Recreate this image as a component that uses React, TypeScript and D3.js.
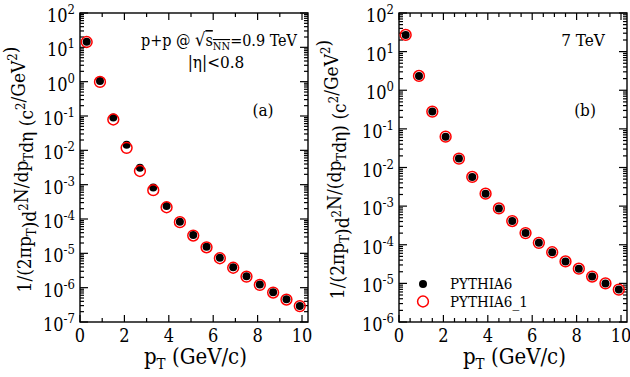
import React, { useEffect, useRef } from 'react'
import * as d3 from 'd3'

// pT bin centres (GeV/c), same for both panels
const ptBins = [0.3, 0.9, 1.5, 2.1, 2.7, 3.3, 3.9, 4.5, 5.1, 5.7, 6.3, 6.9, 7.5, 8.1, 8.7, 9.3, 9.9]

// panel (a): 0.9 TeV
const pythia6A = [14.5, 1.05, 0.09, 0.0145, 0.0031, 8.3e-4, 2.4e-4, 8.3e-5, 3.4e-5, 1.55e-5, 7.4e-6, 3.9e-6, 2.15e-6, 1.23e-6, 7.4e-7, 4.6e-7, 2.9e-7]
const pythia61A = [14.3, 0.98, 0.079, 0.0118, 0.0025, 6.9e-4, 2.2e-4, 8.1e-5, 3.3e-5, 1.5e-5, 7.2e-6, 3.8e-6, 2.1e-6, 1.2e-6, 7.2e-7, 4.5e-7, 2.9e-7]

// panel (b): 7 TeV
const pythia6B = [27, 2.35, 0.28, 0.063, 0.017, 0.0057, 0.0021, 8.7e-4, 4.1e-4, 2.0e-4, 1.12e-4, 6.4e-5, 3.7e-5, 2.4e-5, 1.5e-5, 1.0e-5, 6.9e-6]
const pythia61B = [27, 2.35, 0.28, 0.063, 0.017, 0.0057, 0.0021, 8.7e-4, 4.1e-4, 2.0e-4, 1.12e-4, 6.4e-5, 3.7e-5, 2.4e-5, 1.5e-5, 1.0e-5, 6.9e-6]

const xTicks = [0, 2, 4, 6, 8, 10]
const legendLabels = ['PYTHIA6', 'PYTHIA6_1']

const FONT = '"DejaVu Serif Condensed", "DejaVu Serif", serif'

type PanelCfg = {
  left: number
  yMin: number
  minorStep: number
  black: number[]
  red: number[]
  title: 'a' | 'b'
  titleX: number
}

export default function App() {
  const svgRef = useRef<SVGSVGElement>(null)

  useEffect(() => {
    const svg = d3.select(svgRef.current)
    svg.selectAll('*').remove()

    const top = 13
    const bottom = 322
    const w = 228

    const panels: PanelCfg[] = [
      { left: 80, yMin: 1e-7, minorStep: 1, black: pythia6A, red: pythia61A, title: 'a', titleX: 31 },
      { left: 399, yMin: 1e-6, minorStep: 0.5, black: pythia6B, red: pythia61B, title: 'b', titleX: 344 },
    ]

    panels.forEach(p => {
      const x = d3.scaleLinear().domain([0, 10.27]).range([p.left, p.left + w])
      const y = d3.scaleLog().domain([p.yMin, 100]).range([bottom, top])
      const g = svg.append('g')

      // frame
      g.append('rect')
        .attr('x', p.left).attr('y', top)
        .attr('width', w).attr('height', bottom - top)
        .attr('fill', 'none').attr('stroke', '#000').attr('stroke-width', 1.4)

      // x ticks (bottom + top)
      const minorX = d3.range(0, 10.27, p.minorStep).filter(v => Math.abs(v % 2) > 1e-6)
      const tickG = g.append('g').attr('stroke', '#000').attr('stroke-width', 1.2)
      xTicks.forEach(v => {
        tickG.append('line').attr('x1', x(v)).attr('x2', x(v)).attr('y1', bottom).attr('y2', bottom - 7)
        tickG.append('line').attr('x1', x(v)).attr('x2', x(v)).attr('y1', top).attr('y2', top + 7)
      })
      minorX.forEach(v => {
        tickG.append('line').attr('x1', x(v)).attr('x2', x(v)).attr('y1', bottom).attr('y2', bottom - 4)
        tickG.append('line').attr('x1', x(v)).attr('x2', x(v)).attr('y1', top).attr('y2', top + 4)
      })

      // y ticks (left + right)
      const e0 = Math.round(Math.log10(p.yMin))
      const decades = d3.range(e0, 3)
      decades.forEach(e => {
        const yy = y(Math.pow(10, e))
        tickG.append('line').attr('x1', p.left).attr('x2', p.left + 8).attr('y1', yy).attr('y2', yy)
        tickG.append('line').attr('x1', p.left + w).attr('x2', p.left + w - 8).attr('y1', yy).attr('y2', yy)
        if (e < 2) {
          d3.range(2, 10).forEach(m => {
            const ym = y(m * Math.pow(10, e))
            tickG.append('line').attr('x1', p.left).attr('x2', p.left + 4).attr('y1', ym).attr('y2', ym)
            tickG.append('line').attr('x1', p.left + w).attr('x2', p.left + w - 4).attr('y1', ym).attr('y2', ym)
          })
        }
        const t = g.append('text')
          .attr('x', p.left - 5).attr('y', yy + 9)
          .attr('text-anchor', 'end')
          .attr('font-family', FONT).attr('font-size', 18)
        t.append('tspan').text('10')
        t.append('tspan').attr('dy', -8).attr('font-size', 13).text(String(e))
      })

      // x tick labels
      xTicks.forEach(v => {
        g.append('text')
          .attr('x', x(v)).attr('y', 342)
          .attr('text-anchor', 'middle')
          .attr('font-family', FONT).attr('font-size', 18)
          .text(String(v))
      })

      // x title
      const xt = g.append('text')
        .attr('x', x(5.2)).attr('y', 364)
        .attr('text-anchor', 'middle')
        .attr('font-family', FONT).attr('font-size', 22)
      xt.append('tspan').text('p')
      xt.append('tspan').attr('dy', 5).attr('font-size', 15).text('T')
      xt.append('tspan').attr('dy', -5).text(' (GeV/c)')

      // y title
      const yt = g.append('text')
        .attr('transform', `translate(${p.titleX},${(top + bottom) / 2 + 2}) rotate(-90)`)
        .attr('text-anchor', 'middle')
        .attr('font-family', FONT).attr('font-size', 19)
      const sup = (s: string) => { yt.append('tspan').attr('dy', -8).attr('font-size', 13).text(s); yt.append('tspan').attr('dy', 8).text('') }
      const sub = (s: string) => { yt.append('tspan').attr('dy', 5).attr('font-size', 13).text(s); yt.append('tspan').attr('dy', -5).text('') }
      yt.append('tspan').text('1/(2πp')
      sub('T')
      yt.append('tspan').text(')d')
      sup('2')
      if (p.title === 'a') {
        yt.append('tspan').text('N/dp')
        sub('T')
        yt.append('tspan').text('dη (c')
      } else {
        yt.append('tspan').text('N/(dp')
        sub('T')
        yt.append('tspan').text('dη) (c')
      }
      sup('2')
      yt.append('tspan').text('/GeV')
      sup('2')
      yt.append('tspan').text(')')

      // markers
      const pts = ptBins.map((pt, i) => ({ pt, b: p.black[i], r: p.red[i] }))
      g.selectAll('.blk').data(pts).enter().append('circle')
        .attr('cx', d => x(d.pt)).attr('cy', d => y(d.b)).attr('r', 4).attr('fill', '#000')
      g.selectAll('.red').data(pts).enter().append('circle')
        .attr('cx', d => x(d.pt)).attr('cy', d => y(d.r)).attr('r', 5.4)
        .attr('fill', 'none').attr('stroke', '#ff0000').attr('stroke-width', 1.5)

      // panel labels
      g.append('text')
        .attr('x', p.title === 'a' ? 263 : 585).attr('y', 116)
        .attr('text-anchor', 'middle')
        .attr('font-family', FONT).attr('font-size', 17)
        .text(`(${p.title})`)
    })

    // annotations panel (a)
    const ann = svg.append('text')
      .attr('x', 219).attr('y', 46).attr('text-anchor', 'middle')
      .attr('font-family', FONT).attr('font-size', 16)
    ann.append('tspan').text('p+p @ ')
    ann.append('tspan').attr('font-size', 18).text('√')
    ann.append('tspan').attr('text-decoration', 'overline').text('s')
    ann.append('tspan').attr('dy', 4).attr('font-size', 11).attr('text-decoration', 'overline').text('NN')
    ann.append('tspan').attr('dy', -4).text('=0.9 TeV')

    svg.append('text')
      .attr('x', 216).attr('y', 68).attr('text-anchor', 'middle')
      .attr('font-family', FONT).attr('font-size', 17)
      .text('|η|<0.8')

    // annotation panel (b)
    svg.append('text')
      .attr('x', 583).attr('y', 46).attr('text-anchor', 'middle')
      .attr('font-family', FONT).attr('font-size', 17)
      .text('7 TeV')

    // legend
    const lg = svg.append('g')
    lg.append('circle').attr('cx', 423).attr('cy', 284).attr('r', 4).attr('fill', '#000')
    lg.append('circle').attr('cx', 423).attr('cy', 301.5).attr('r', 5.4)
      .attr('fill', 'none').attr('stroke', '#ff0000').attr('stroke-width', 1.5)
    legendLabels.forEach((l, i) => {
      lg.append('text')
        .attr('x', 450).attr('y', 289 + i * 17.5)
        .attr('font-family', FONT).attr('font-size', 15)
        .text(l)
    })
  }, [])

  return (
    <svg
      ref={svgRef}
      width={630}
      height={377}
      style={{ position: 'absolute', left: 0, top: 0, background: '#fff' }}
    />
  )
}
